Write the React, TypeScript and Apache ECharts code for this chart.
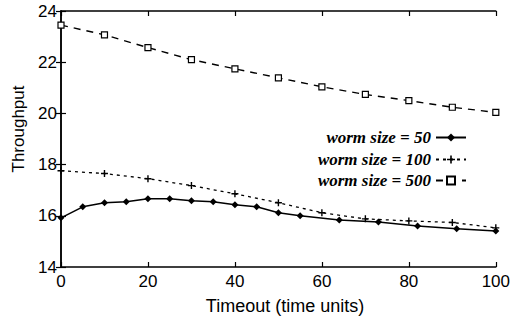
import React, { useEffect, useRef } from "react";
import * as echarts from "echarts";

const seriesNames = ["worm size = 50", "worm size = 100", "worm size = 500"];
const xs50 = [0, 5, 10, 15, 20, 25, 30, 35, 40, 45, 50, 55, 64, 73, 82, 91, 100];
const ys50 = [15.92, 16.35, 16.51, 16.55, 16.67, 16.67, 16.59, 16.55, 16.43, 16.35, 16.12, 16.0, 15.84, 15.76, 15.6, 15.49, 15.41];
const xs100 = [0, 10, 20, 30, 40, 50, 60, 70, 80, 90, 100];
const ys100 = [17.76, 17.65, 17.45, 17.18, 16.86, 16.51, 16.12, 15.88, 15.8, 15.74, 15.53];
const xs500 = [0, 10, 20, 30, 40, 50, 60, 70, 80, 90, 100];
const ys500 = [23.45, 23.07, 22.57, 22.1, 21.74, 21.39, 21.04, 20.74, 20.5, 20.24, 20.04];
const xTitle = "Timeout (time units)";
const yTitle = "Throughput";

const pair = (xs: number[], ys: number[]) => xs.map((x, i) => [x, ys[i]]);

const PLUS = "path://M4,0h2v4h4v2h-4v4h-2v-4h-4v-2h4z";

export default function App() {
  const ref = useRef<HTMLDivElement>(null);
  useEffect(() => {
    if (!ref.current) return;
    const chart = echarts.init(ref.current, undefined, { renderer: "svg" });
    const sans = "Liberation Sans, Arial, sans-serif";
    const serif = "Liberation Serif, Times New Roman, serif";
    const axisCommon = {
      axisLine: { show: true, lineStyle: { color: "#000", width: 1.5 } },
      axisTick: { show: true, inside: true, length: 5, lineStyle: { color: "#000", width: 1.2 } },
      splitLine: { show: false },
    };
    const legendBase = (name: string, top: number) => ({
      data: [name],
      right: 46,
      top,
      align: "right",
      padding: 0,
      itemWidth: 30,
      itemHeight: 10,
      itemGap: 0,
      selectedMode: false,
      textStyle: {
        fontFamily: serif,
        fontStyle: "italic",
        fontWeight: "bold",
        fontSize: 17,
        color: "#000",
      },
    });
    chart.setOption({
      animation: false,
      backgroundColor: "#fff",
      textStyle: { color: "#000" },
      grid: { left: 61, right: 13, top: 11, bottom: 65 },
      xAxis: [
        {
          type: "value",
          min: 0,
          max: 100,
          interval: 20,
          ...axisCommon,
          axisLabel: { color: "#000", fontFamily: sans, fontSize: 17, margin: 6 },
        },
        {
          type: "value",
          position: "top",
          min: 0,
          max: 100,
          interval: 20,
          ...axisCommon,
          axisLabel: { show: false },
        },
      ],
      yAxis: [
        {
          type: "value",
          min: 14,
          max: 24,
          interval: 2,
          name: yTitle,
          nameLocation: "middle",
          nameGap: 33,
          nameRotate: 90,
          nameTextStyle: {
            color: "#000000",
            fontFamily: sans,
            fontSize: 17,
            padding: [0, 0, 0, 20],
          },
          ...axisCommon,
          axisLabel: { color: "#000", fontFamily: sans, fontSize: 17, margin: 4 },
        },
        {
          type: "value",
          position: "right",
          min: 14,
          max: 24,
          interval: 2,
          ...axisCommon,
          axisLabel: { show: false },
        },
      ],
      legend: [
        legendBase(seriesNames[0], 129),
        legendBase(seriesNames[1], 151),
        legendBase(seriesNames[2], 172),
      ],
      graphic: [
        {
          type: "text",
          x: 285,
          y: 306,
          style: {
            text: xTitle,
            fontFamily: sans,
            fontSize: 18,
            fill: "#000000",
            align: "center",
            verticalAlign: "middle",
          },
        },
      ],
      series: [
        {
          name: seriesNames[0],
          type: "line",
          data: pair(xs50, ys50),
          symbol: "diamond",
          symbolSize: 7,
          itemStyle: { color: "#000" },
          lineStyle: { color: "#000", width: 1.5, type: "solid" },
        },
        {
          name: seriesNames[1],
          type: "line",
          data: pair(xs100, ys100),
          symbol: PLUS,
          symbolSize: 7,
          itemStyle: { color: "#000" },
          lineStyle: { color: "#000", width: 1.3, type: [3, 4] },
        },
        {
          name: seriesNames[2],
          type: "line",
          data: pair(xs500, ys500),
          symbol: "rect",
          symbolSize: 6,
          itemStyle: { color: "#fff", borderColor: "#000", borderWidth: 1.2 },
          lineStyle: { color: "#000", width: 1.4, type: [7, 6] },
        },
      ],
    });
    return () => chart.dispose();
  }, []);
  return <div ref={ref} style={{ width: 513, height: 332, position: "absolute", left: 0, top: 0 }} />;
}
